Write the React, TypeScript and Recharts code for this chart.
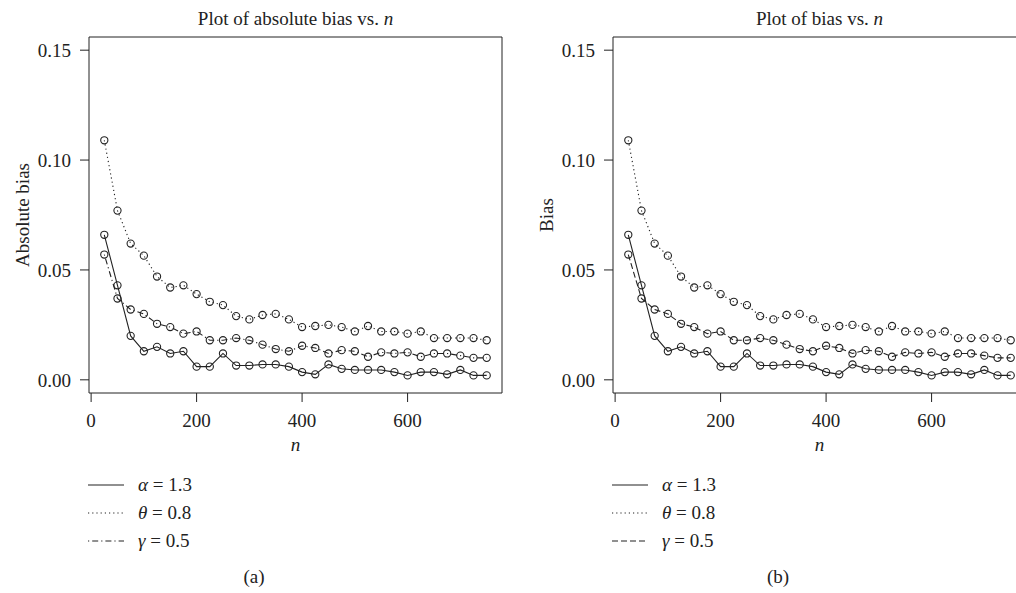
import { LineChart, Line, XAxis, YAxis, ReferenceArea } from 'recharts';

// sample sizes used in the simulation
const sampleSizes = [
  25, 50, 75, 100, 125, 150, 175, 200, 225, 250,
  275, 300, 325, 350, 375, 400, 425, 450, 475, 500,
  525, 550, 575, 600, 625, 650, 675, 700, 725, 750,
];

// absolute bias of each estimator
const alphaAbsBias = [
  0.066, 0.043, 0.020, 0.013, 0.015, 0.012, 0.013, 0.006, 0.006, 0.012,
  0.0065, 0.0065, 0.007, 0.007, 0.006, 0.0035, 0.0025, 0.007, 0.005, 0.0045,
  0.0045, 0.0045, 0.0035, 0.002, 0.0035, 0.0035, 0.0025, 0.0045, 0.002, 0.002,
];
const thetaAbsBias = [
  0.109, 0.077, 0.062, 0.0565, 0.047, 0.042, 0.043, 0.039, 0.0355, 0.034,
  0.029, 0.0275, 0.0295, 0.030, 0.0275, 0.024, 0.0245, 0.025, 0.024, 0.022,
  0.0245, 0.022, 0.022, 0.021, 0.022, 0.019, 0.019, 0.019, 0.019, 0.018,
];
const gammaAbsBias = [
  0.057, 0.037, 0.032, 0.030, 0.0255, 0.024, 0.021, 0.022, 0.018, 0.018,
  0.019, 0.018, 0.016, 0.014, 0.013, 0.0155, 0.0145, 0.012, 0.0135, 0.013,
  0.0105, 0.0125, 0.012, 0.0125, 0.0105, 0.012, 0.012, 0.011, 0.010, 0.010,
];

// signed bias (all estimates were above the true value)
const alphaBias = alphaAbsBias;
const thetaBias = thetaAbsBias;
const gammaBias = gammaAbsBias;

const xTicks = [0, 200, 400, 600];
const yTicks = [0, 0.05, 0.1, 0.15];
const xDomain: [number, number] = [-4, 779];
const yDomain: [number, number] = [-0.006, 0.156];

const FONT = '"Liberation Serif", "DejaVu Serif", serif';
const INK = '#222';

interface SeriesDef {
  key: string;
  symbol: string;
  value: string;
  dash?: string;
}

function buildRows(alpha: number[], theta: number[], gamma: number[]) {
  return sampleSizes.map((n, i) => ({ n, alpha: alpha[i], theta: theta[i], gamma: gamma[i] }));
}

const OpenDot = (props: any) => {
  const { cx, cy, key } = props;
  if (cx == null || cy == null) return null;
  return <circle key={key} cx={cx} cy={cy} r={3.6} fill="none" stroke={INK} strokeWidth={1.1} />;
};

function LegendBox({ series }: { series: SeriesDef[] }) {
  return (
    <div style={{ fontFamily: FONT, fontSize: 19, color: INK }}>
      {series.map((s) => (
        <div key={s.key} style={{ display: 'flex', alignItems: 'center', height: 28 }}>
          <svg width={50} height={10}>
            <line x1={0} y1={5} x2={36} y2={5} stroke={INK} strokeWidth={1.1} strokeDasharray={s.dash} />
          </svg>
          <span>
            <i>{s.symbol}</i> = {s.value}
          </span>
        </div>
      ))}
    </div>
  );
}

interface PanelProps {
  title: string;
  yLabel: string;
  tag: string;
  left: number;
  rows: ReturnType<typeof buildRows>;
  gammaDash: string;
}

function Panel({ title, yLabel, tag, left, rows, gammaDash }: PanelProps) {
  const series: SeriesDef[] = [
    { key: 'alpha', symbol: 'α', value: '1.3' },
    { key: 'theta', symbol: 'θ', value: '0.8', dash: '1.2 3' },
    { key: 'gamma', symbol: 'γ', value: '0.5', dash: gammaDash },
  ];

  return (
    <div style={{ position: 'absolute', left, top: 0, width: 520, height: 593 }}>
      <div
        style={{
          position: 'absolute', left: 89, width: 413, top: 8, textAlign: 'center',
          fontFamily: FONT, fontSize: 19, color: INK,
        }}
      >
        {title} <i>n</i>
      </div>
      <LineChart width={520} height={460} data={rows} margin={{ top: 37, right: 18, left: 0, bottom: 20 }}>
        <XAxis
          dataKey="n"
          type="number"
          domain={xDomain}
          allowDataOverflow
          ticks={xTicks}
          tickSize={9}
          tickMargin={12}
          axisLine={false}
          tickLine={{ stroke: INK }}
          tick={{ fill: INK, fontSize: 19, fontFamily: FONT }}
          height={47}
          label={({ viewBox }: any) => (
            <text
              x={viewBox.x + viewBox.width / 2}
              y={viewBox.y + 58}
              textAnchor="middle"
              fontFamily={FONT}
              fontSize={19}
              fontStyle="italic"
              fill={INK}
            >
              n
            </text>
          )}
        />
        <YAxis
          type="number"
          domain={yDomain}
          allowDataOverflow
          ticks={yTicks}
          tickFormatter={(v: number) => v.toFixed(2)}
          tickSize={9}
          tickMargin={9}
          axisLine={false}
          tickLine={{ stroke: INK }}
          tick={{ fill: INK, fontSize: 19, fontFamily: FONT }}
          width={89}
          label={({ viewBox }: any) => {
            const cy = viewBox.y + viewBox.height / 2;
            return (
              <text
                x={22}
                y={cy}
                transform={`rotate(-90, 22, ${cy})`}
                textAnchor="middle"
                dominantBaseline="central"
                fontFamily={FONT}
                fontSize={19}
                fill={INK}
              >
                {yLabel}
              </text>
            );
          }}
        />
        <ReferenceArea
          x1={xDomain[0]}
          x2={xDomain[1]}
          y1={yDomain[0]}
          y2={yDomain[1]}
          fill="none"
          stroke={INK}
          strokeWidth={1}
        />
        {series.map((s) => (
          <Line
            key={s.key}
            dataKey={s.key}
            stroke={INK}
            strokeWidth={1.1}
            strokeDasharray={s.dash}
            dot={OpenDot}
            activeDot={false}
            isAnimationActive={false}
          />
        ))}
      </LineChart>
      <div style={{ position: 'absolute', left: 88, top: 471 }}>
        <LegendBox series={series} />
      </div>
      <div
        style={{
          position: 'absolute', left: 204, width: 100, top: 566, textAlign: 'center',
          fontFamily: FONT, fontSize: 19, color: INK,
        }}
      >
        {tag}
      </div>
    </div>
  );
}

export default function App() {
  const absRows = buildRows(alphaAbsBias, thetaAbsBias, gammaAbsBias);
  const biasRows = buildRows(alphaBias, thetaBias, gammaBias);
  return (
    <div
      style={{
        position: 'absolute', left: 0, top: 0, width: 1016, height: 593,
        overflow: 'hidden', background: '#fff',
      }}
    >
      <Panel title="Plot of absolute bias vs." yLabel="Absolute bias" tag="(a)" left={0} rows={absRows} gammaDash="1.2 3 6 3" />
      <Panel title="Plot of bias vs." yLabel="Bias" tag="(b)" left={524} rows={biasRows} gammaDash="6 3" />
    </div>
  );
}
